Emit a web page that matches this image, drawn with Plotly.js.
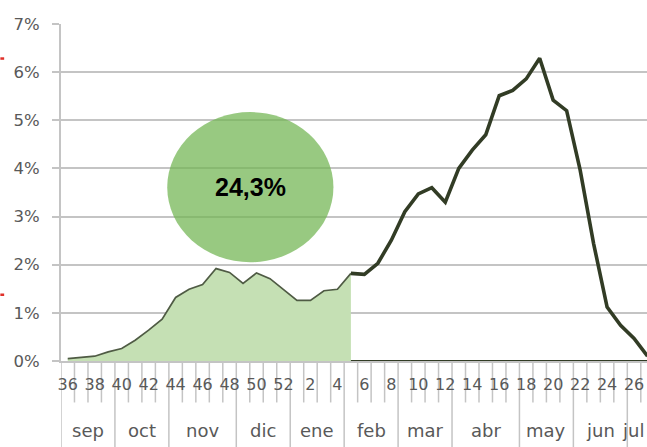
<!DOCTYPE html>
<html>
<head>
<meta charset="utf-8">
<script src="https://cdn.plot.ly/plotly-3.0.1.min.js"></script>
<style>html,body{margin:0;padding:0;background:#fff;overflow:hidden}#chart{width:647px;height:447px}</style>
</head>
<body>
<div id="chart"></div>
<script>
// Week labels (epidemiological weeks), Sept -> July
const weeks = ['36','37','38','39','40','41','42','43','44','45','46','47','48','49','50','51','52',
               '1','2','3','4','5','6','7','8','9','10','11','12','13','14','15','16','17','18','19','20','21','22','23','24','25','26','27'];
// Months with number of weeks in each
const monthNames = ['sep','oct','nov','dic','ene','feb','mar','abr','may','jun','jul'];
const monthWeekCounts = [4,4,5,4,4,4,4,5,4,4,2];
// Series A (shaded, weeks 36 -> 5), percent
const shadedWeeks = weeks.slice(0, 22);
const shadedValues = [0.05,0.07,0.10,0.19,0.26,0.43,0.64,0.87,1.32,1.49,1.59,1.92,1.84,1.61,1.83,1.71,1.49,1.26,1.26,1.46,1.49,1.82];
// Series B (dark line, weeks 5 -> 27), percent
const lineWeeks = weeks.slice(21);
const lineValues = [1.82,1.80,2.03,2.51,3.10,3.47,3.60,3.30,4.00,4.38,4.70,5.51,5.62,5.86,6.29,5.42,5.20,3.97,2.44,1.12,0.74,0.47,0.10];
// Highlighted cumulative share
const bubbleLabel = '24,3%';

const GRID = '#c4c4c4';
const TXT = '#595959';
const FONT = 'DejaVu Sans, sans-serif';
const X_MAX = 42.96;

const traces = [
  {x: shadedWeeks, y: shadedValues, type: 'scatter', mode: 'lines', fill: 'tozeroy',
   fillcolor: '#c5e0b4', line: {color: '#4f5b44', width: 1.7}, hoverinfo: 'x+y'},
  {x: [lineWeeks[0], lineWeeks[lineWeeks.length-1]], y: [0, 0], type: 'scatter', mode: 'lines',
   line: {color: '#323c25', width: 2.2}, hoverinfo: 'skip'},
  {x: lineWeeks, y: lineValues, type: 'scatter', mode: 'lines',
   line: {color: '#323c25', width: 3.6, shape: 'linear'}, hoverinfo: 'x+y'}
];

// Category boundary lines under the axis (short per week, long per month)
const shapes = [];
const monthBoundaries = new Set();
let acc = 0;
monthBoundaries.add(0);
monthWeekCounts.forEach(c => { acc += c; monthBoundaries.add(acc); });
for (let k = 0; k < weeks.length; k++) {
  const isMonth = monthBoundaries.has(k);
  shapes.push({type: 'line', xref: 'x', yref: 'paper', x0: k - 0.5, x1: k - 0.5,
    y0: 0, y1: isMonth ? -0.26 : -0.123, line: {color: GRID, width: 1.5}, layer: 'below'});
}
// Bubble
shapes.push({type: 'circle', xref: 'paper', yref: 'paper', x0: 0.1813, x1: 0.4649, y0: 0.2931, y1: 0.7386,
  fillcolor: 'rgba(112,180,80,0.72)', line: {width: 0}, layer: 'above'});
// small red marks at left edge
shapes.push({type: 'line', xref: 'paper', yref: 'paper', x0: -0.1035, x1: -0.097, y0: 0.8975, y1: 0.8975,
  line: {color: '#e0302a', width: 2.5}});
shapes.push({type: 'line', xref: 'paper', yref: 'paper', x0: -0.1035, x1: -0.097, y0: 0.1966, y1: 0.1966,
  line: {color: '#e0302a', width: 2.5}});

const annotations = [];
acc = 0;
monthNames.forEach((m, i) => {
  const c = monthWeekCounts[i];
  const center = acc + (c - 1) / 2;
  const overflow = center + 0.9 > X_MAX;
  annotations.push({x: overflow ? X_MAX - 0.1 : center, xref: 'x', y: -0.205, yref: 'paper', text: m, showarrow: false,
    xanchor: overflow ? 'right' : 'center', yanchor: 'middle', font: {family: FONT, size: 18, color: TXT}});
  acc += c;
});
annotations.push({x: 0.3231, y: 0.5159, xref: 'paper', yref: 'paper', text: '<b>' + bubbleLabel + '</b>',
  showarrow: false, xanchor: 'center', yanchor: 'middle',
  font: {family: 'Liberation Sans, Arial, sans-serif', size: 25, color: '#000'}});

const layout = {
  width: 647, height: 447,
  margin: {l: 60.7, r: 0, t: 24, b: 86.3, pad: 0},
  paper_bgcolor: '#fff', plot_bgcolor: '#fff',
  showlegend: false,
  xaxis: {type: 'category', categoryorder: 'array', categoryarray: weeks,
    range: [-0.5, X_MAX], tickmode: 'linear', tick0: 0, dtick: 2,
    showgrid: false, zeroline: false, showline: true, linecolor: GRID, linewidth: 2,
    ticks: '', ticklabelstandoff: 8, tickangle: 0,
    tickfont: {family: FONT, size: 16, color: TXT}},
  yaxis: {range: [0, 7], dtick: 1, ticksuffix: '%', showgrid: true, gridcolor: GRID, gridwidth: 2,
    zeroline: false, showline: true, linecolor: GRID, linewidth: 2,
    ticks: 'outside', ticklen: 7, tickcolor: GRID, tickwidth: 2, ticklabelstandoff: 9,
    tickfont: {family: FONT, size: 16.5, color: TXT}},
  shapes: shapes,
  annotations: annotations
};

Plotly.newPlot('chart', traces, layout, {staticPlot: true, displayModeBar: false});
</script>
</body>
</html>
